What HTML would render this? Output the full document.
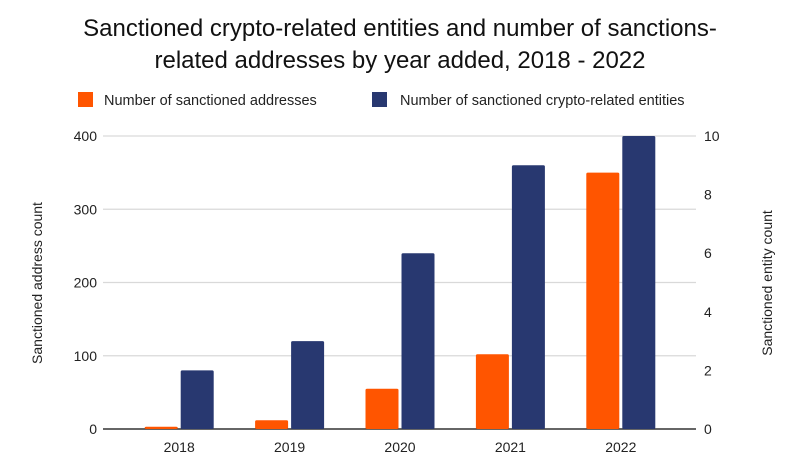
<!DOCTYPE html>
<html><head><meta charset="utf-8">
<style>
html,body{margin:0;padding:0;background:#fff;}
body{width:800px;height:464px;overflow:hidden;font-family:"Liberation Sans",sans-serif;}
</style></head>
<body>
<svg id="chart" width="800" height="464" viewBox="0 0 800 464">
<text x="400" y="36" text-anchor="middle" font-size="24" fill="#111">Sanctioned crypto-related entities and number of sanctions-</text>
<text x="400" y="68" text-anchor="middle" font-size="24" fill="#111">related addresses by year added, 2018 - 2022</text>
<g>
<rect x="78" y="92" width="15" height="15" fill="#ff5500"/>
<text x="104" y="105" font-size="14.5" fill="#222">Number of sanctioned addresses</text>
<rect x="372" y="92" width="15" height="15" fill="#283870"/>
<text x="400" y="105" font-size="14.5" fill="#222">Number of sanctioned crypto-related entities</text>
</g>
<text transform="translate(42,283) rotate(-90)" text-anchor="middle" font-size="14" fill="#222">Sanctioned address count</text>
<text transform="translate(772,283) rotate(-90)" text-anchor="middle" font-size="14" fill="#222">Sanctioned entity count</text>
<g id="grid"></g>
<g id="bars"></g>
<g id="labels"></g>
</svg>
<script>
const categories = ["2018","2019","2020","2021","2022"];
const addresses = [3, 12, 55, 102, 350];
const entities = [2, 3, 6, 9, 10];
const leftTicks = [0, 100, 200, 300, 400];
const rightTicks = [0, 2, 4, 6, 8, 10];

const NS = "http://www.w3.org/2000/svg";
const plotL = 124, plotR = 676, plotTop = 136, plotBottom = 429;
const yL = v => plotBottom - (v / 400) * (plotBottom - plotTop);
const yR = v => plotBottom - (v / 10) * (plotBottom - plotTop);
const band = (plotR - plotL) / categories.length;
const xC = i => plotL + band * (i + 0.5);
function mk(tag, attrs, parent){const e=document.createElementNS(NS,tag);for(const k in attrs)e.setAttribute(k,attrs[k]);parent.appendChild(e);return e;}
const grid=document.getElementById('grid'), bars=document.getElementById('bars'), labels=document.getElementById('labels');
leftTicks.forEach(t=>{
  const l=mk('line',{x1:103,x2:696,y1:yL(t),y2:yL(t),stroke:t===0?'#333':'#d9d9d9','stroke-width':t===0?1.5:1.2},grid);
  
  
  const tx=mk('text',{x:97,y:yL(t)+5,'text-anchor':'end','font-size':14,fill:'#222'},labels);
  tx.textContent=t;
  
  
});
rightTicks.forEach(t=>{
  const tx=mk('text',{x:704,y:yR(t)+5,'text-anchor':'start','font-size':14,fill:'#222'},labels);
  tx.textContent=t;
  
  
});
const bw=33;
categories.forEach((c,i)=>{
  const cx=xC(i);
  const ya=yL(addresses[i]);
  const b1=mk('rect',{x:cx-bw-1.5,y:ya,width:bw,height:plotBottom-ya,fill:'#ff5500',rx:1.5},bars);
  
  
  const ye=yR(entities[i]);
  const b2=mk('rect',{x:cx+1.5,y:ye,width:bw,height:plotBottom-ye,fill:'#283870',rx:1.5},bars);
  
  
  const tx=mk('text',{x:cx,y:452,'text-anchor':'middle','font-size':14,fill:'#222'},labels);
  tx.textContent=c;
  
  
});
</script>
</body></html>
